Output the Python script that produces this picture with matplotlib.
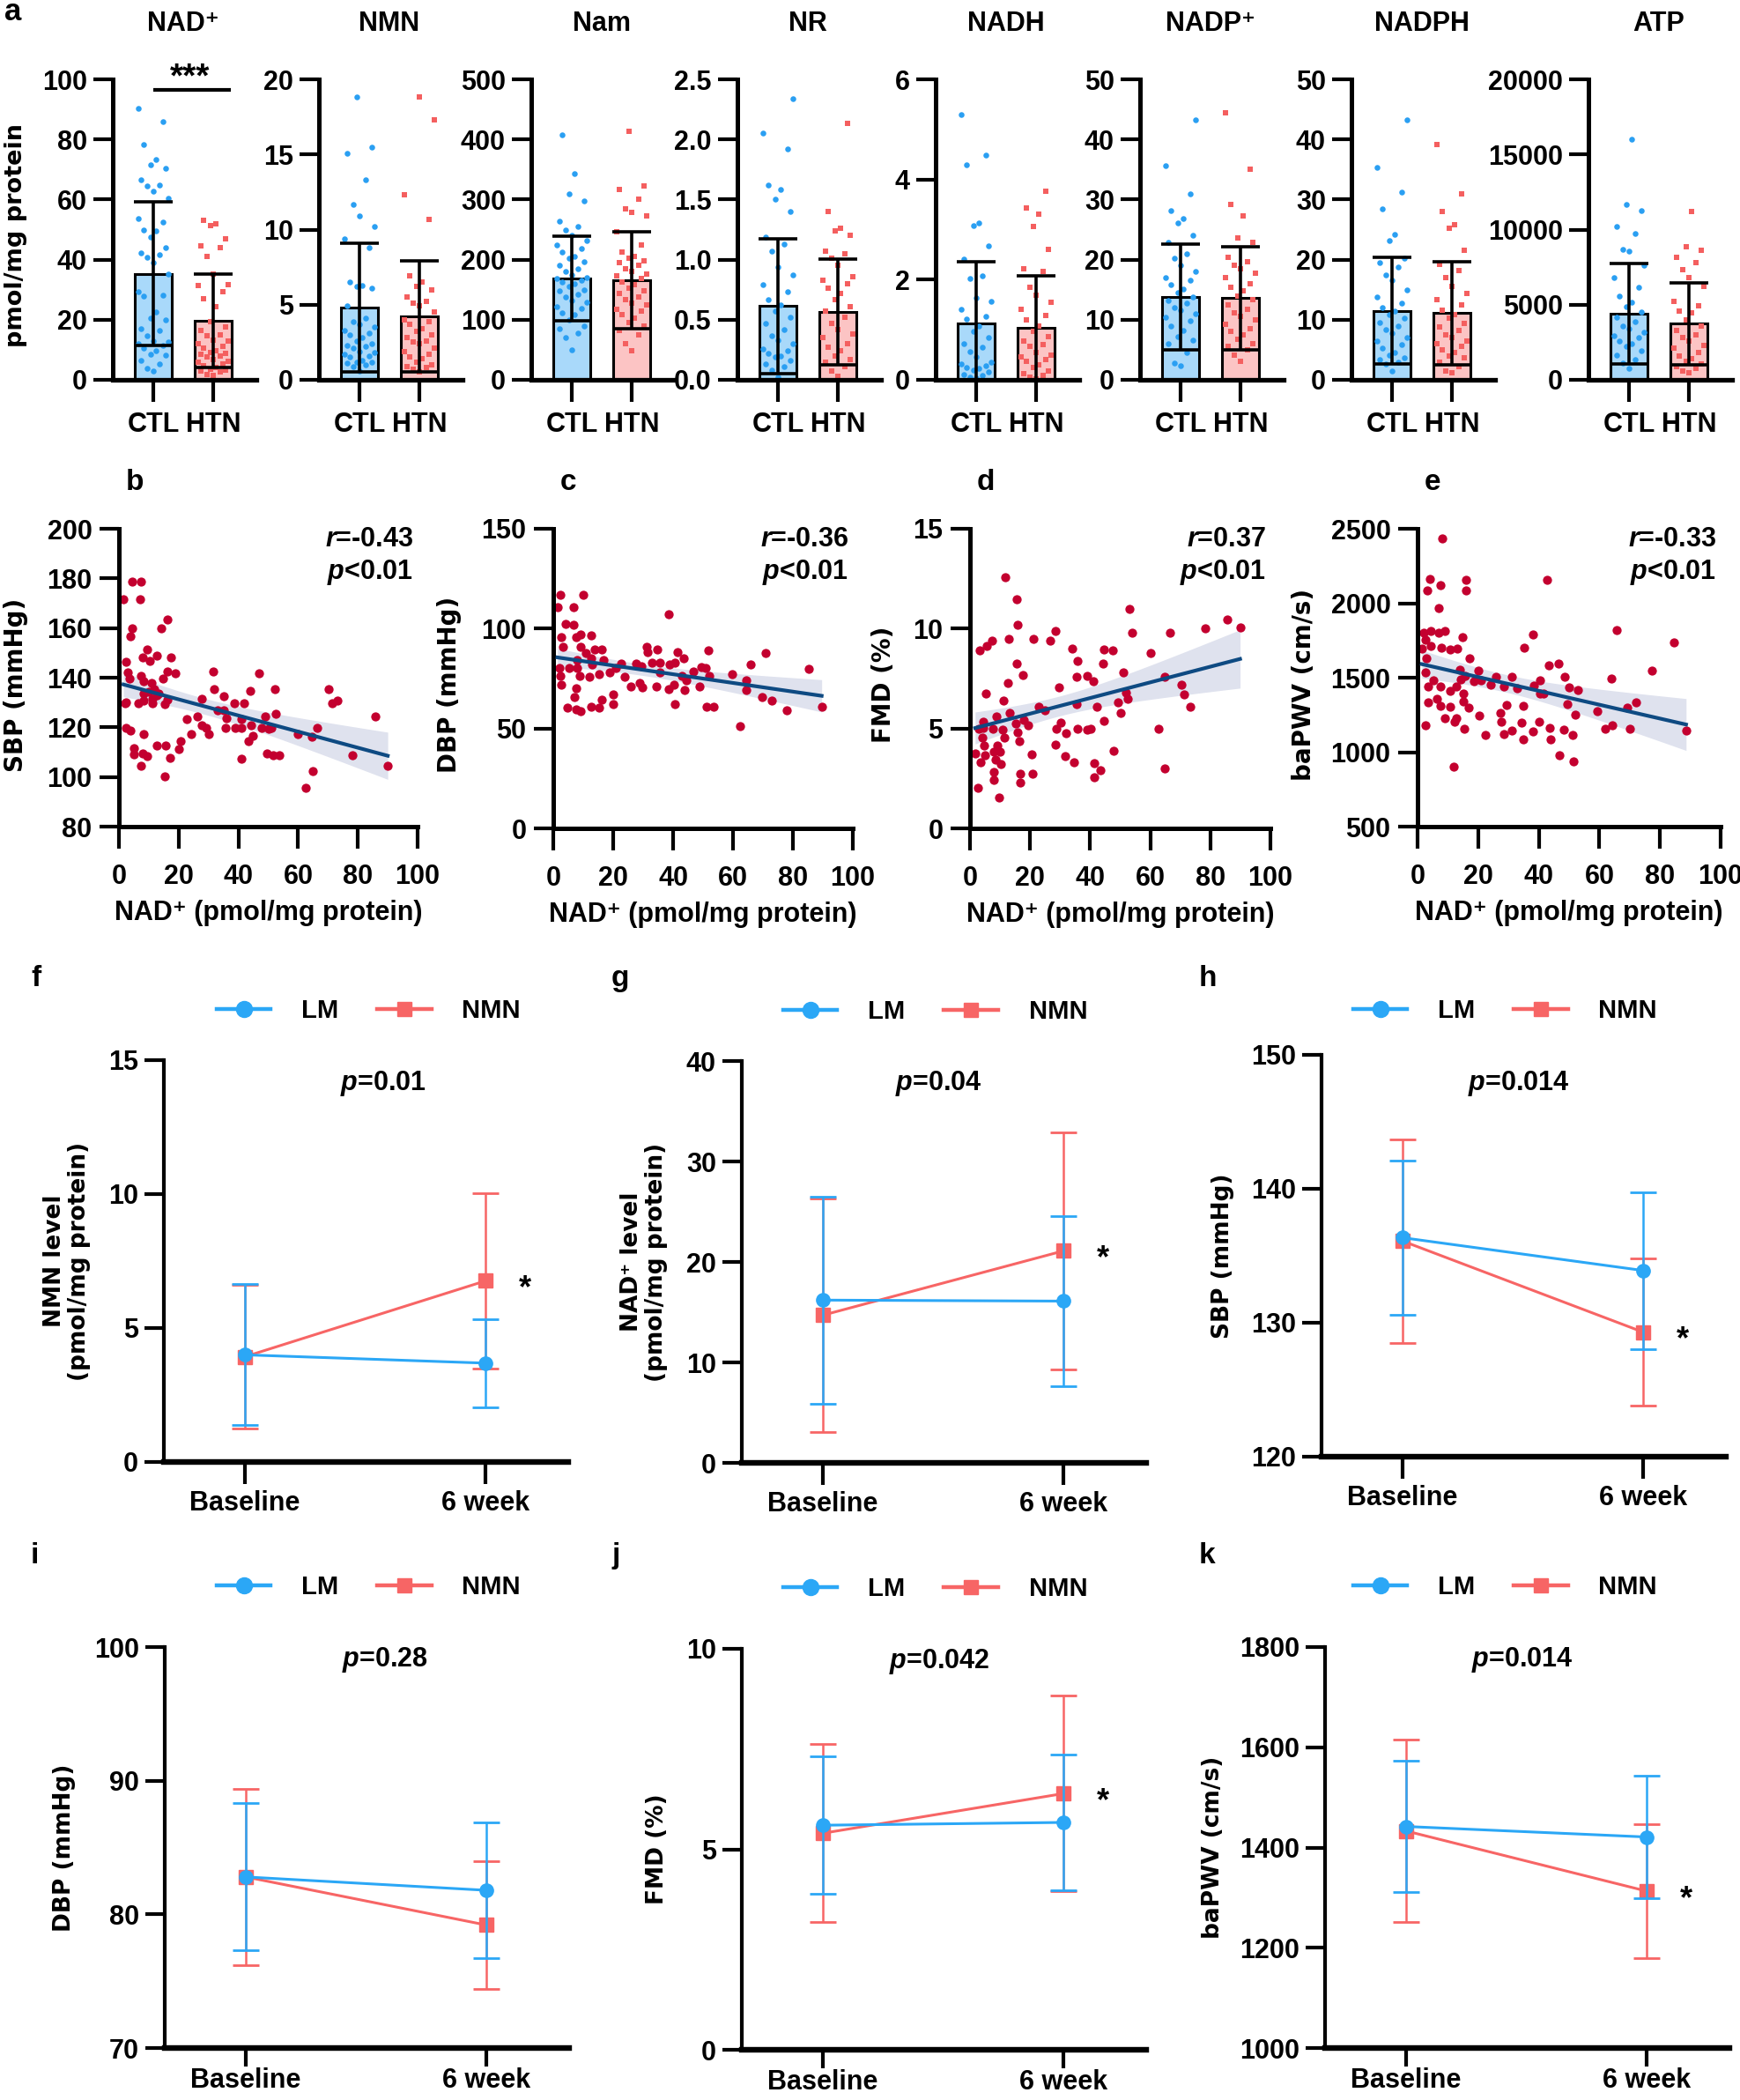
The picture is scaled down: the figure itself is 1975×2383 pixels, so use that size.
import numpy as np
import matplotlib
matplotlib.use("Agg")
import matplotlib.pyplot as plt
from matplotlib.lines import Line2D
from matplotlib.ticker import FormatStrFormatter
from matplotlib.transforms import offset_copy

plt.rcParams["font.family"] = ["Liberation Sans", "DejaVu Sans"]
plt.rcParams["font.weight"] = "bold"
plt.rcParams["mathtext.fontset"] = "custom"
plt.rcParams["mathtext.rm"] = "Liberation Sans:bold"
plt.rcParams["mathtext.it"] = "Liberation Sans:italic:bold"
plt.rcParams["mathtext.bf"] = "Liberation Sans:bold"
plt.rcParams["mathtext.default"] = "regular"

# ---------------- data: panel a (bars + dots) ----------------
a_names = ["NAD⁺", "NMN", "Nam", "NR", "NADH", "NADP⁺", "NADPH", "ATP"]
a_ymax = [100, 20, 500, 2.5, 6, 50, 50, 20000]
a_step = [20, 5, 100, 0.5, 2, 10, 10, 5000]
groups = ["CTL", "HTN"]
ctl_mean = [35.3, 4.81, 168.6, 0.613, 1.12, 13.8, 11.5, 4399]
ctl_sd = [24.0, 4.28, 71.0, 0.56, 1.24, 8.8, 8.9, 3323]
htn_mean = [19.6, 4.22, 165.2, 0.565, 1.04, 13.6, 11.1, 3734]
htn_sd = [15.6, 3.72, 80.6, 0.44, 1.04, 8.6, 8.6, 2718]

ctl_nad = [90.2, 85.8, 78.3, 73.4, 71.7, 70.4, 66.7, 64.9, 64.5, 62.8, 60.4, 53.7, 52.4, 50.0, 49.5,
           47.4, 44.1, 42.1, 41.5, 40.9, 39.0, 35.2, 29.3, 28.1, 27.8, 22.6, 20.5, 20.0, 17.0, 16.5,
           14.6, 12.8, 12.5, 12.0, 11.4, 10.6, 9.6, 8.5, 8.2, 6.4, 5.2, 3.9, 3.0]
htn_nad = [53.0, 52.0, 51.2, 47.0, 44.6, 44.1, 41.1, 35.2, 31.8, 31.3, 29.3, 26.9, 24.2, 19.3, 17.7,
           16.5, 15.1, 14.6, 13.1, 12.8, 12.1, 11.1, 10.6, 9.6, 9.2, 8.7, 8.4, 7.9, 7.5, 6.7, 6.3,
           5.9, 5.2, 4.8, 4.2, 3.5, 3.2, 3.0, 2.6, 1.8, 1.5]
ctl_nmn = [18.8, 15.5, 15.1, 13.3, 11.7, 10.9, 10.2, 9.4, 8.8, 6.5, 6.3, 6.2, 6.1, 4.9, 4.1, 3.9,
           3.7, 3.5, 3.3, 3.1, 3.0, 2.8, 2.6, 2.4, 2.3, 2.2, 2.1, 1.9, 1.8, 1.7, 1.6, 1.5, 1.3, 1.2,
           1.2, 1.1, 1.0, 0.9, 0.6]
htn_nmn = [18.8, 17.3, 12.3, 10.7, 6.9, 6.5, 6.2, 6.0, 5.5, 5.2, 5.1, 4.9, 4.5, 4.0, 3.9, 3.7,
           3.4, 3.2, 3.0, 2.8, 2.6, 2.5, 2.4, 2.1, 1.9, 1.7, 1.5, 1.4, 1.2, 1.0, 0.9, 0.8, 0.7, 0.5]
ctl_nam = [407, 343, 309, 297, 264, 255, 250, 241, 231, 225, 219, 212, 205, 202, 196, 190, 185, 180,
           175, 170, 168, 165, 163, 160, 155, 150, 148, 142, 138, 132, 129, 122, 119, 112, 109, 99,
           90, 85, 78, 70, 50]
htn_nam = [413, 322, 317, 300, 284, 278, 273, 246, 225, 212, 205, 202, 198, 195, 190, 185, 180, 176,
           173, 168, 163, 158, 153, 148, 143, 138, 133, 128, 124, 118, 114, 108, 102, 95, 89, 82,
           75, 60, 48]
ctl_nr = [2.34, 2.05, 1.92, 1.62, 1.58, 1.50, 1.40, 1.19, 1.13, 1.07, 0.94, 0.87, 0.79, 0.73, 0.67,
          0.62, 0.57, 0.52, 0.47, 0.42, 0.37, 0.33, 0.30, 0.26, 0.24, 0.22, 0.20, 0.19, 0.16, 0.13,
          0.11, 0.08, 0.02]
htn_nr = [2.13, 1.40, 1.26, 1.24, 1.20, 1.07, 1.05, 1.01, 0.95, 0.86, 0.83, 0.80, 0.76, 0.72, 0.67,
          0.61, 0.57, 0.52, 0.47, 0.42, 0.38, 0.35, 0.30, 0.27, 0.24, 0.20, 0.17, 0.15, 0.11, 0.07,
          0.03]
ctl_nadh = [5.30, 4.49, 4.29, 3.14, 3.08, 2.67, 2.41, 2.08, 2.02, 1.63, 1.57, 1.40, 1.26, 1.22, 1.07,
            0.96, 0.84, 0.72, 0.65, 0.57, 0.45, 0.35, 0.31, 0.28, 0.25, 0.22, 0.19, 0.15, 0.11,
            0.08, 0.05, 0.03]
htn_nadh = [3.76, 3.43, 3.30, 3.06, 2.61, 2.22, 2.16, 1.84, 1.69, 1.54, 1.40, 1.28, 1.19, 1.07, 0.96,
            0.87, 0.78, 0.70, 0.66, 0.55, 0.50, 0.46, 0.40, 0.37, 0.30, 0.25, 0.18, 0.13, 0.08,
            0.05, 0.02]
ctl_nadp = [43.3, 35.6, 31.0, 28.1, 26.8, 26.1, 24.1, 22.9, 20.9, 20.2, 19.0, 18.0, 17.0, 16.5, 15.8,
            15.1, 14.5, 13.8, 13.2, 12.8, 12.0, 11.6, 11.0, 10.4, 9.8, 8.9, 8.2, 7.2, 6.6, 6.0, 4.5,
            2.8, 2.3]
htn_nadp = [44.4, 35.0, 29.2, 27.3, 23.6, 22.9, 20.4, 19.7, 19.0, 18.5, 17.7, 17.0, 16.0, 15.4, 14.8,
            14.0, 13.3, 12.4, 11.8, 11.1, 10.5, 9.9, 9.2, 8.5, 8.0, 7.5, 6.8, 6.0, 5.5, 5.0, 4.1, 3.1]
ctl_nadph = [43.3, 35.4, 31.3, 28.5, 24.2, 23.2, 20.2, 19.5, 18.7, 17.5, 16.5, 15.0, 13.8, 12.8, 12.0,
             11.4, 10.8, 10.2, 9.5, 8.9, 8.3, 7.7, 7.0, 6.5, 5.8, 5.3, 4.6, 4.1, 3.6, 3.3, 3.0, 2.6,
             1.5]
htn_nadph = [39.2, 30.9, 28.0, 25.8, 25.2, 21.6, 19.2, 18.2, 17.0, 15.5, 14.3, 13.3, 12.4, 11.6, 10.9,
             10.2, 9.4, 8.8, 8.2, 7.5, 7.0, 6.5, 6.0, 5.5, 5.0, 4.5, 4.0, 3.6, 3.0, 2.2, 1.5, 1.1]
ctl_atp = [15993, 11691, 11242, 10186, 9736, 8700, 8563, 7600, 6800, 6158, 5600, 5142, 4848, 4500,
           4164, 3900, 3600, 3400, 3187, 2950, 2796, 2600, 2405, 2200, 1916, 1650, 1329, 1100, 743]
htn_atp = [11202, 8856, 8622, 8172, 7781, 7331, 6803, 6200, 5239, 4946, 4600, 4457, 3969, 3578, 3300,
           2991, 2800, 2600, 2300, 2111, 1818, 1600, 1427, 1250, 1036, 900, 743, 600, 450]
ctl_pts = [ctl_nad, ctl_nmn, ctl_nam, ctl_nr, ctl_nadh, ctl_nadp, ctl_nadph, ctl_atp]
htn_pts = [htn_nad, htn_nmn, htn_nam, htn_nr, htn_nadh, htn_nadp, htn_nadph, htn_atp]

# ---------------- data: panels b-e (NAD+ vs outcome) ----------------
sbp_pairs = [(1.5, 171.6), (4.4, 178.7), (7.4, 178.7), (7.2, 171.6), (4.4, 159.8), (3.9, 156.8),
             (16.2, 163.6), (14.1, 159.8), (9.5, 151.5), (2.5, 146.5), (7.9, 148.0), (10.3, 146.8),
             (12.8, 148.9), (17.4, 148.0), (2.9, 142.0), (3.4, 139.7), (7.4, 140.8), (8.4, 138.5),
             (10.8, 137.9), (11.8, 135.5), (13.3, 133.7), (14.7, 139.7), (16.2, 142.6), (19.0, 141.8),
             (2.5, 130.2), (2.0, 129.6), (6.4, 129.6), (8.4, 130.8), (11.1, 129.6), (15.2, 129.3),
             (16.2, 131.2), (2.5, 119.6), (3.9, 118.6), (8.2, 117.4), (4.9, 111.5), (4.9, 109.1),
             (7.9, 109.5), (9.5, 108.3), (7.4, 104.4), (12.8, 112.5), (15.7, 112.5), (17.0, 107.7),
             (15.4, 100.4), (20.2, 111.3), (20.6, 114.6), (22.6, 123.3), (24.3, 117.4), (26.3, 124.5),
             (27.8, 131.6), (27.8, 121.0), (29.2, 119.6), (30.2, 117.4), (31.5, 142.5), (31.8, 135.5),
             (33.1, 126.7), (35.1, 132.6), (35.1, 126.7), (35.9, 123.7), (35.7, 119.6), (38.6, 129.6),
             (39.0, 119.6), (41.0, 119.6), (41.0, 123.3), (41.0, 107.5), (42.0, 129.6), (43.3, 114.6),
             (44.3, 120.8), (44.7, 116.6), (44.0, 134.7), (46.9, 141.7), (47.7, 119.6), (48.9, 124.5),
             (50.2, 119.3), (49.7, 109.5), (51.6, 108.9), (53.6, 108.9), (51.1, 119.6), (52.4, 125.5),
             (52.1, 135.5), (60.0, 117.4), (64.6, 116.2), (66.4, 119.6), (64.9, 102.4), (62.6, 95.7),
             (70.3, 135.5), (71.3, 129.6), (73.3, 130.8), (78.2, 108.7), (85.7, 124.5), (90.0, 104.4),
             (11.3, 131.4), (10.1, 134.3), (12.8, 132.8), (8.4, 133.7)]
dbp_pairs = [(2.4, 116.9), (10.0, 116.9), (1.4, 110.7), (6.9, 110.7), (38.4, 107.1), (4.1, 102.2),
             (6.9, 101.8), (2.6, 95.9), (7.5, 95.9), (9.0, 97.1), (12.7, 96.8), (3.1, 90.9),
             (9.2, 90.9), (10.8, 88.0), (13.7, 89.7), (16.1, 89.7), (12.7, 85.3), (16.9, 84.1),
             (7.8, 84.1), (2.2, 80.2), (5.3, 80.2), (8.0, 80.2), (12.9, 82.1), (2.4, 76.5),
             (8.8, 76.2), (12.0, 75.8), (15.4, 77.2), (18.8, 78.3), (20.8, 80.2), (22.5, 82.4),
             (23.9, 75.8), (2.6, 71.8), (7.5, 70.3), (7.1, 65.9), (4.6, 60.3), (7.5, 59.6),
             (9.2, 58.6), (12.5, 61.1), (15.4, 60.3), (16.1, 64.4), (20.0, 62.1), (20.0, 66.9),
             (25.9, 70.9), (27.5, 82.4), (29.4, 81.2), (28.8, 72.8), (29.8, 70.6), (31.1, 90.9),
             (31.4, 88.3), (33.0, 83.1), (34.3, 70.9), (34.7, 89.4), (35.5, 83.1), (35.5, 78.0),
             (38.4, 69.9), (40.4, 72.1), (40.6, 62.1), (38.9, 82.1), (40.6, 83.1), (41.4, 88.3),
             (43.5, 85.3), (42.8, 76.5), (44.3, 74.3), (43.8, 69.1), (46.8, 78.7), (48.7, 70.9),
             (49.4, 80.9), (51.0, 80.2), (52.2, 76.2), (51.7, 89.0), (51.2, 61.1), (53.6, 61.1),
             (59.8, 77.2), (62.4, 51.2), (64.4, 74.3), (64.4, 69.1), (65.9, 82.1), (69.8, 65.9),
             (70.8, 88.0), (72.9, 64.0), (77.8, 59.2), (85.3, 79.7), (89.6, 61.1)]
fmd_pairs = [(11.7, 12.57), (15.6, 11.47), (15.8, 10.19), (12.9, 9.49), (21.2, 9.49), (26.6, 9.38),
             (28.5, 9.88), (3.1, 8.90), (5.6, 9.15), (7.2, 9.41), (15.6, 8.26), (17.6, 7.68),
             (12.7, 7.28), (5.3, 6.76), (11.1, 6.40), (13.1, 5.76), (8.8, 5.62), (4.3, 5.32),
             (4.3, 5.03), (2.9, 5.00), (7.5, 5.00), (10.9, 4.93), (15.3, 5.26), (17.8, 5.44),
             (19.3, 5.18), (15.8, 4.82), (16.3, 4.38), (11.4, 4.56), (4.1, 4.56), (4.6, 4.15),
             (9.0, 4.15), (8.0, 3.82), (10.0, 3.82), (1.7, 3.75), (5.1, 3.68), (3.6, 3.31),
             (8.5, 3.46), (10.2, 3.24), (8.0, 2.82), (7.8, 2.43), (2.6, 2.03), (9.8, 1.54),
             (16.6, 2.72), (16.6, 2.28), (20.7, 2.72), (20.5, 3.71), (22.9, 6.10), (24.8, 5.91),
             (29.5, 7.06), (28.4, 4.19), (30.3, 5.29), (28.7, 5.00), (32.0, 4.78), (31.7, 3.60),
             (34.6, 3.31), (33.9, 9.00), (35.9, 8.38), (35.6, 7.57), (35.6, 6.21), (35.9, 4.97),
             (39.1, 7.62), (41.1, 7.38), (39.1, 4.93), (40.1, 5.00), (42.2, 6.10), (41.3, 3.26),
             (43.4, 2.91), (41.3, 2.57), (44.4, 8.26), (44.7, 8.97), (47.6, 8.90), (44.7, 5.37),
             (47.9, 3.90), (49.3, 6.29), (50.0, 5.76), (51.0, 7.82), (51.8, 6.79), (52.5, 6.47),
             (53.0, 11.00), (53.9, 9.78), (60.0, 8.79), (62.8, 5.00), (64.9, 7.57), (64.9, 3.01),
             (66.7, 9.78), (70.4, 7.18), (71.4, 6.69), (73.3, 6.10), (78.4, 10.00), (85.7, 10.47),
             (89.9, 10.07)]
pwv_pairs = [(8.1, 2437), (4.1, 2165), (7.5, 2121), (3.1, 2086), (15.9, 2155), (15.9, 2086),
             (42.6, 2155), (7.0, 1968), (2.1, 1800), (4.3, 1814), (7.0, 1800), (9.1, 1814),
             (2.6, 1755), (1.4, 1695), (4.3, 1715), (7.9, 1701), (10.7, 1691), (13.0, 1695),
             (14.9, 1774), (2.9, 1632), (17.2, 1628), (38.2, 1790), (35.1, 1701), (65.6, 1820),
             (84.5, 1735), (77.2, 1550), (63.9, 1494), (43.3, 1583), (46.5, 1597), (2.6, 1534),
             (5.2, 1484), (13.9, 1553), (20.1, 1549), (14.2, 1490), (15.7, 1510), (18.6, 1475),
             (21.0, 1484), (25.9, 1504), (24.0, 1451), (31.2, 1504), (28.5, 1439), (32.9, 1431),
             (38.5, 1445), (40.4, 1484), (40.4, 1392), (41.7, 1392), (48.6, 1504), (50.1, 1435),
             (53.0, 1419), (3.6, 1439), (7.5, 1439), (10.8, 1411), (12.8, 1439), (15.2, 1392),
             (3.6, 1337), (6.5, 1356), (7.7, 1313), (10.7, 1307), (15.2, 1341), (16.9, 1297),
             (8.9, 1228), (12.8, 1228), (12.3, 1202), (2.6, 1183), (15.5, 1155), (20.3, 1248),
             (22.5, 1116), (27.3, 1262), (27.5, 1202), (29.5, 1317), (28.5, 1120), (31.0, 1143),
             (34.3, 1198), (34.9, 1313), (34.9, 1084), (38.2, 1139), (40.1, 1202), (43.6, 1163),
             (44.0, 1084), (48.4, 1149), (51.1, 1116), (49.4, 1321), (52.0, 1254), (46.9, 978),
             (51.4, 938), (12.0, 903), (59.3, 1277), (62.0, 1155), (64.1, 1179), (69.2, 1297),
             (72.1, 1337), (70.2, 1155), (88.6, 1143)]
sc_pairs = [sbp_pairs, dbp_pairs, fmd_pairs, pwv_pairs]
sc_ylabels = ["SBP (mmHg)", "DBP (mmHg)", "FMD (%)", "baPWV (cm/s)"]
sc_ylim = [(80, 200), (0, 150), (0, 15), (500, 2500)]
sc_step = [20, 50, 5, 500]
sc_r = ["-0.43", "-0.36", "0.37", "-0.33"]
sc_letters = ["b", "c", "d", "e"]

# ---------------- data: panels f-k (LM vs NMN, mean +/- SD) ----------------
times = ["Baseline", "6 week"]
lp_ylabels = ["NMN level\n(pmol/mg protein)", "NAD⁺ level\n(pmol/mg protein)", "SBP (mmHg)",
              "DBP (mmHg)", "FMD (%)", "baPWV (cm/s)"]
lm_mean = [[4.0, 3.69], [16.2, 16.1], [136.35, 133.9], [82.8, 81.8], [5.6, 5.67], [1442, 1421]]
lm_sd = [[2.63, 1.64], [10.3, 8.5], [5.75, 5.85], [5.5, 5.1], [1.71, 1.70], [131, 122]]
nmn_mean = [[3.93, 6.76], [14.7, 21.1], [136.1, 129.3], [82.8, 79.2], [5.4, 6.39], [1433, 1313]]
nmn_sd = [[2.68, 3.26], [11.6, 11.8], [7.6, 5.5], [6.6, 4.75], [2.22, 2.44], [182, 134]]
lp_p = ["0.01", "0.04", "0.014", "0.28", "0.042", "0.014"]
lp_star = [True, True, True, False, True, True]
lp_ylim = [(0, 15), (0, 40), (120, 150), (70, 100), (0, 10), (1000, 1800)]
lp_step = [5, 10, 10, 10, 5, 200]
lp_letters = ["f", "g", "h", "i", "j", "k"]

# ---------------- styling ----------------
BLUE_DOT, BLUE_BAR = "#2a9ff2", "#a9d9fa"
RED_DOT, RED_BAR = "#f45f5f", "#fcc4c4"
SC_RED, SC_LINE, SC_BAND = "#c3002f", "#0e4a82", "#dfe2ee"
LM_C, NMN_C = "#2ba7f6", "#f76565"

W, H = 1975, 2383
fig = plt.figure(figsize=(W / 100, H / 100), dpi=100)


def box(left, top, right, bottom):
    return [left / W, 1 - bottom / H, (right - left) / W, (bottom - top) / H]


def fx(x):
    return x / W


def fy(y):
    return 1 - y / H


def style_axes(ax, lw_left, lw_bottom):
    for s in ["top", "right"]:
        ax.spines[s].set_visible(False)
    ax.spines["left"].set_linewidth(lw_left)
    ax.spines["bottom"].set_linewidth(lw_bottom)
    ax.spines["left"].set_capstyle("projecting")
    ax.spines["bottom"].set_capstyle("projecting")


# ---------------- row a ----------------
a_left = [128, 362, 603, 837, 1062, 1294, 1534, 1803]
jit = [0, -0.11, 0.11, -0.21, 0.21, -0.05, 0.05, -0.16, 0.16, -0.25, 0.25]
for i in range(8):
    L = a_left[i]
    ax = fig.add_axes(box(L, 90, L + 163, 431))
    ax.set_xlim(-0.676, 1.72)
    ax.set_ylim(0, a_ymax[i])
    ax.bar([0, 1], [ctl_mean[i], htn_mean[i]], width=0.63, color=[BLUE_BAR, RED_BAR],
           edgecolor="black", linewidth=2.2, zorder=1)
    for k, (vals, col, mk) in enumerate([(ctl_pts[i], BLUE_DOT, "o"), (htn_pts[i], RED_DOT, "s")]):
        v = np.sort(np.asarray(vals))
        xs = k + np.array([jit[j % len(jit)] for j in range(len(v))])
        ax.scatter(xs, v, s=22, marker=mk, color=col, linewidths=0, zorder=2, clip_on=False)
    ax.errorbar([0, 1], [ctl_mean[i], htn_mean[i]], yerr=[ctl_sd[i], htn_sd[i]], fmt="none",
                ecolor="black", elinewidth=2.6, capsize=16, capthick=2.6, zorder=4)
    ax.set_yticks(np.arange(0, a_ymax[i] + a_step[i] / 2, a_step[i]))
    if i == 3:
        ax.yaxis.set_major_formatter(FormatStrFormatter("%.1f"))
    else:
        ax.yaxis.set_major_formatter(FormatStrFormatter("%d"))
    ax.set_xticks([0, 1])
    ax.set_xticklabels(groups)
    style_axes(ax, 3.6, 3.8)
    ax.tick_params(axis="y", length=16, width=3, pad=5, labelsize=22)
    ax.tick_params(axis="x", length=18, width=3, pad=8, labelsize=22)
    fig.text(fx(L + 80), fy(27), a_names[i], ha="center", va="center", fontsize=22, weight="bold")
    if i == 0:
        ax.plot([0, 1.3], [96.5, 96.5], color="black", lw=3, clip_on=False, solid_capstyle="butt")
        fig.text(fx(L + 88), fy(98), "***", ha="center", va="baseline", fontsize=28, weight="bold")

fig.text(fx(18), fy(267), "pmol/mg protein", rotation=90, ha="center", va="center",
         family="DejaVu Sans", weight="bold", fontsize=19.5)
fig.text(fx(5), fy(23), "a", ha="left", va="baseline", fontsize=25, weight="bold")

# ---------------- row b-e ----------------
sc_left = [135, 628, 1101, 1609]
sc_right = [474, 968, 1442, 1953]
sc_bottom = [938, 940, 940, 938]
sc_ylab_x = [18, 510, 1003, 1480]
for i in range(4):
    ax = fig.add_axes(box(sc_left[i], 600, sc_right[i], sc_bottom[i]))
    pts = np.asarray(sc_pairs[i], dtype=float)
    x, y = pts[:, 0], pts[:, 1]
    slope, icpt = np.polyfit(x, y, 1)
    xs = np.linspace(x.min(), x.max(), 100)
    yhat = icpt + slope * xs
    n = len(x)
    s = np.sqrt(np.sum((y - (icpt + slope * x)) ** 2) / (n - 2))
    se = s * np.sqrt(1 / n + (xs - x.mean()) ** 2 / np.sum((x - x.mean()) ** 2))
    ax.fill_between(xs, yhat - 1.98 * se, yhat + 1.98 * se, color=SC_BAND, lw=0, zorder=1)
    ax.scatter(x, y, s=55, color=SC_RED, linewidths=0, zorder=2)
    ax.plot(xs, yhat, color=SC_LINE, lw=3, zorder=3)
    ax.set_xlim(0, 100)
    ax.set_ylim(*sc_ylim[i])
    ax.set_xticks(np.arange(0, 101, 20))
    ax.set_yticks(np.arange(sc_ylim[i][0], sc_ylim[i][1] + 1, sc_step[i]))
    style_axes(ax, 3.6, 3.6)
    ax.tick_params(axis="y", length=16, width=3, pad=6, labelsize=22)
    ax.tick_params(axis="x", length=18, width=3, pad=12, labelsize=22)
    ax.set_xlabel("NAD⁺ (pmol/mg protein)", fontsize=22, weight="bold", labelpad=8)
    ax.text(0.985, 0.965, "$\\mathit{r}$=" + sc_r[i], transform=ax.transAxes, ha="right",
            va="center", fontsize=22)
    ax.text(0.985, 0.855, "$\\mathit{p}$<0.01", transform=ax.transAxes, ha="right",
            va="center", fontsize=22)
    fig.text(fx(sc_ylab_x[i]), fy(777), sc_ylabels[i], rotation=90, ha="center", va="center",
             family="DejaVu Sans", weight="bold", fontsize=20)
    fig.text(fx(sc_left[i] + 8), fy(556), sc_letters[i], ha="left", va="baseline", fontsize=24,
             weight="bold")

# ---------------- rows f-k ----------------
lp_left = [186, 842, 1500, 187, 842, 1504]
lp_top = [1203, 1204, 1197, 1869, 1871, 1869]
lp_bottom = [1659, 1660, 1653, 2324, 2326, 2324]
lp_ylab_x = [76, 731, 1388, 73, 746, 1377]
lp_leg_x = [246, 889, 1536, 246, 889, 1536]
lp_leg_y = [1147, 1148, 1147, 1801, 1803, 1801]
lp_p_xy = [(435, 1229), (1065, 1230), (1724, 1229), (437, 1884), (1066, 1885), (1728, 1884)]
lp_letter_xy = [(35, 1119), (694, 1119), (1361, 1119), (35, 1774), (694, 1774), (1361, 1774)]
for i in range(6):
    L = lp_left[i]
    ax = fig.add_axes(box(L, lp_top[i], L + 459, lp_bottom[i]))
    ax.errorbar([0, 1], nmn_mean[i], yerr=nmn_sd[i], color=NMN_C, lw=2.2, marker="s", ms=11,
                capsize=11, capthick=2, elinewidth=1.8, zorder=3, clip_on=False)
    ax.errorbar([0, 1], lm_mean[i], yerr=lm_sd[i], color=LM_C, lw=2.2, marker="o", ms=11,
                capsize=11, capthick=2, elinewidth=1.8, zorder=4, clip_on=False)
    ax.set_xlim(-0.337, 1.344)
    ax.set_ylim(*lp_ylim[i])
    ax.set_yticks(np.arange(lp_ylim[i][0], lp_ylim[i][1] + 1e-9, lp_step[i]))
    ax.yaxis.set_major_formatter(FormatStrFormatter("%d"))
    ax.set_xticks([0, 1])
    ax.set_xticklabels(times)
    style_axes(ax, 3.0, 4.6)
    ax.tick_params(axis="y", length=16, width=3, pad=5, labelsize=22)
    if i < 3:
        ax.tick_params(axis="x", length=18, width=3, pad=5, labelsize=22)
    else:
        ax.tick_params(axis="x", length=15, width=3, pad=1, labelsize=22)
    if lp_star[i]:
        tr = offset_copy(ax.transData, fig=fig, x=0, y=-19, units="dots")
        ax.text(1.165, nmn_mean[i][1], "*", transform=tr, ha="center", va="baseline",
                fontsize=26, weight="bold")
    handles = [Line2D([], [], color=LM_C, lw=3.2, marker="o", ms=13),
               Line2D([], [], color=NMN_C, lw=3.2, marker="s", ms=12)]
    ax.legend(handles, ["LM", "NMN"], loc="center left",
              bbox_to_anchor=(fx(lp_leg_x[i]), fy(lp_leg_y[i])), bbox_transform=fig.transFigure,
              ncol=2, frameon=False, fontsize=21, handlelength=2.1, handletextpad=1.2,
              columnspacing=1.5, borderpad=0, borderaxespad=0)
    px, py = lp_p_xy[i]
    fig.text(fx(px), fy(py), "$\\mathit{p}$=" + lp_p[i], ha="center", va="center", fontsize=22)
    fig.text(fx(lp_ylab_x[i]), fy((lp_top[i] + lp_bottom[i]) / 2), lp_ylabels[i], rotation=90,
             ha="center", va="center", family="DejaVu Sans", weight="bold", fontsize=19,
             linespacing=1.1)
    lx, ly = lp_letter_xy[i]
    fig.text(fx(lx), fy(ly), lp_letters[i], ha="left", va="baseline", fontsize=24, weight="bold")

fig.savefig("out.png", dpi=100)
